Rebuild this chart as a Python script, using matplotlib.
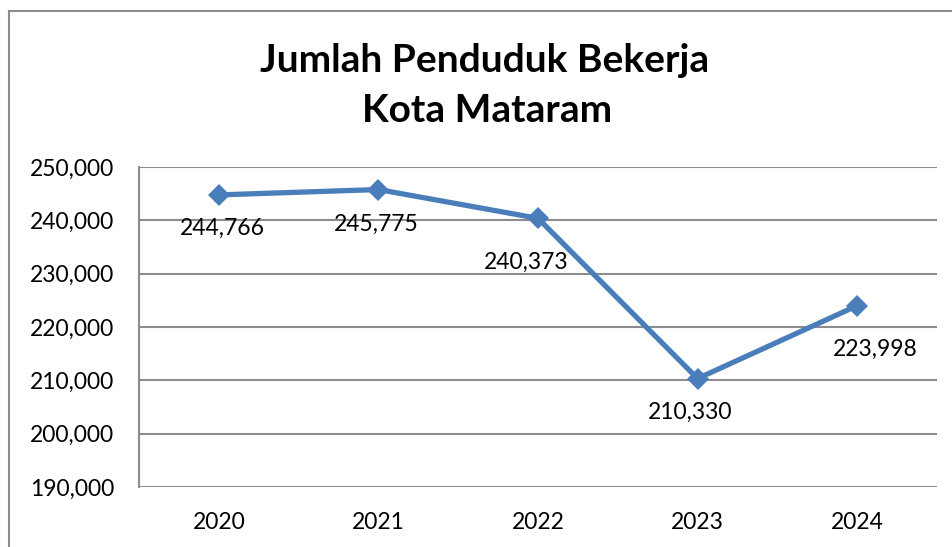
import matplotlib

matplotlib.use("Agg")
import matplotlib.pyplot as plt
from matplotlib.patches import Rectangle
from matplotlib.ticker import FuncFormatter

plt.rcParams["font.family"] = ["Lato", "DejaVu Sans"]

years = ["2020", "2021", "2022", "2023", "2024"]
workers = [244766, 245775, 240373, 210330, 223998]
# label offsets (pixels) from each point
label_dx = [4, -2, -12, -7, 18]
label_dy = [-33, -35, -44, -34, -44]

fig = plt.figure(figsize=(9.52, 5.47), dpi=100)
ax = fig.add_axes((139 / 952, 1 - 487 / 547, 798 / 952, 320 / 547))

# outer chart-area border (cropped on right and bottom)
fig.patches.append(Rectangle((9 / 952, -0.1), 1.2, 1.1 - 11 / 547,
                             transform=fig.transFigure, fill=False,
                             ec="#8c8c8c", lw=1.5))

x = range(len(years))
ax.plot(x, workers, "-D", color="#4a7ebb", lw=3.8, markersize=11,
        markeredgewidth=0, zorder=3)
for i, v in enumerate(workers):
    ax.annotate(f"{v:,}", (i, v), xytext=(label_dx[i], label_dy[i]),
                textcoords="offset pixels", ha="center", va="center",
                fontsize=16.5, color="black")

ax.set_xlim(-0.5, len(years) - 0.5)
ax.set_ylim(190000, 250000)
ax.set_yticks(range(190000, 250001, 10000))
ax.yaxis.set_major_formatter(FuncFormatter(lambda v, _: f"{int(v):,}"))
ax.set_xticks(list(x))
ax.set_xticklabels(years)
ax.tick_params(length=0, labelsize=16.5)
ax.tick_params(axis="y", pad=18)
ax.tick_params(axis="x", pad=18)
ax.grid(axis="y", color="#8c8c8c", lw=1.5)
ax.set_axisbelow(True)
for s in ("top", "right", "bottom"):
    ax.spines[s].set_visible(False)
ax.spines["left"].set_color("#8c8c8c")
ax.spines["left"].set_linewidth(1.5)

fig.text(485 / 952, 1 - 72 / 547, "Jumlah Penduduk Bekerja",
         ha="center", va="baseline", fontsize=28, fontweight="bold")
fig.text(487 / 952, 1 - 122 / 547, "Kota Mataram",
         ha="center", va="baseline", fontsize=28, fontweight="bold")

fig.savefig("out.png", dpi=100)
